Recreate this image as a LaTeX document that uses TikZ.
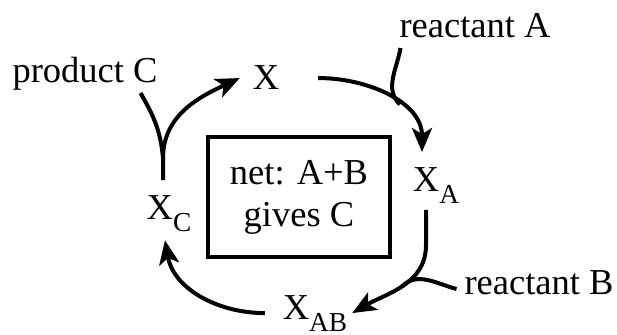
\documentclass[tikz,border=0pt]{standalone}
\usepackage{fontspec}
\setmainfont{Liberation Serif}
\newfontfamily\labelface{Liberation Serif}
\usepackage{tikz}
\usetikzlibrary{positioning,arrows.meta,calc}
\newcommand{\lowsub}[1]{\raisebox{-6pt}{\fontsize{13.7}{14}\selectfont #1}}
\tikzset{
  txt/.style={inner sep=0pt, outer sep=0pt, anchor=base, font=\labelface\fontsize{18.25}{21}\selectfont},
  netbox/.style={draw, line width=2pt, align=center, inner sep=0pt, minimum width=91pt,
                 minimum height=60pt, font=\labelface\fontsize{18.25}{21}\selectfont},
  flow/.style={-{Stealth[length=12pt, width=10pt, inset=3pt]}, line width=2pt},
  feed/.style={line width=2pt},
}

\begin{document}
\begin{tikzpicture}[x=0.5pt, y=0.5pt]
  \useasboundingbox (0,0) rectangle (617,-335);
  % --- cycle
  \node[txt] (X) at (266,-90) {X};
  \node[txt] (XA) at (436,-192) {X\lowsub{A}};
  \node[txt] (XAB) at (315,-320) {X\lowsub{AB}};
  \node[txt] (XC) at (169,-220) {X\lowsub{C}};
  \node[netbox] (net) at (299,-197) {net: A+B\\gives C};

  % --- feeds
  \node[txt] (rA) at (475,-38) {reactant A};
  \node[txt] (rB) at (539,-295) {reactant B};
  \node[txt] (pC) at (85,-83) {product C};
  \coordinate (a0) at ($(rA.base west)+(1,-10)$);
  \coordinate (b0) at ($(rB.base west)+(-8,6)$);
  \coordinate (c0) at ($(pC.base east)+(-17,-10)$);

  % --- arrows
  \draw[flow] ($(X.east)+(39,0)$) to[out=0,in=90] coordinate[pos=0.6] (jA) ($(XA.north)+(-14,16)$);
  \draw[feed] (a0) to[out=-100,in=135] (jA);
  \draw[flow] ($(XA.south)+(-10,-6)$) -- ++(0,-35) to[out=-90,in=30] coordinate[pos=0.5] (jB)
              ($(XAB.east)+(5,1)$);
  \draw[feed] (b0) to[out=165,in=45] (jB);
  \draw[flow] ($(XAB.west)+(-18,1)$) to[out=180,in=-80] ($(XC.south)+(-4,-8)$);
  \draw[flow] ($(XC.north)+(-6,16)$) -- ++(0,22) coordinate (jC) to[out=90,in=-155] ($(X.west)+(-13,0)$);
  \draw[feed] (jC) to[out=95,in=-60] (c0);
\end{tikzpicture}
\end{document}
